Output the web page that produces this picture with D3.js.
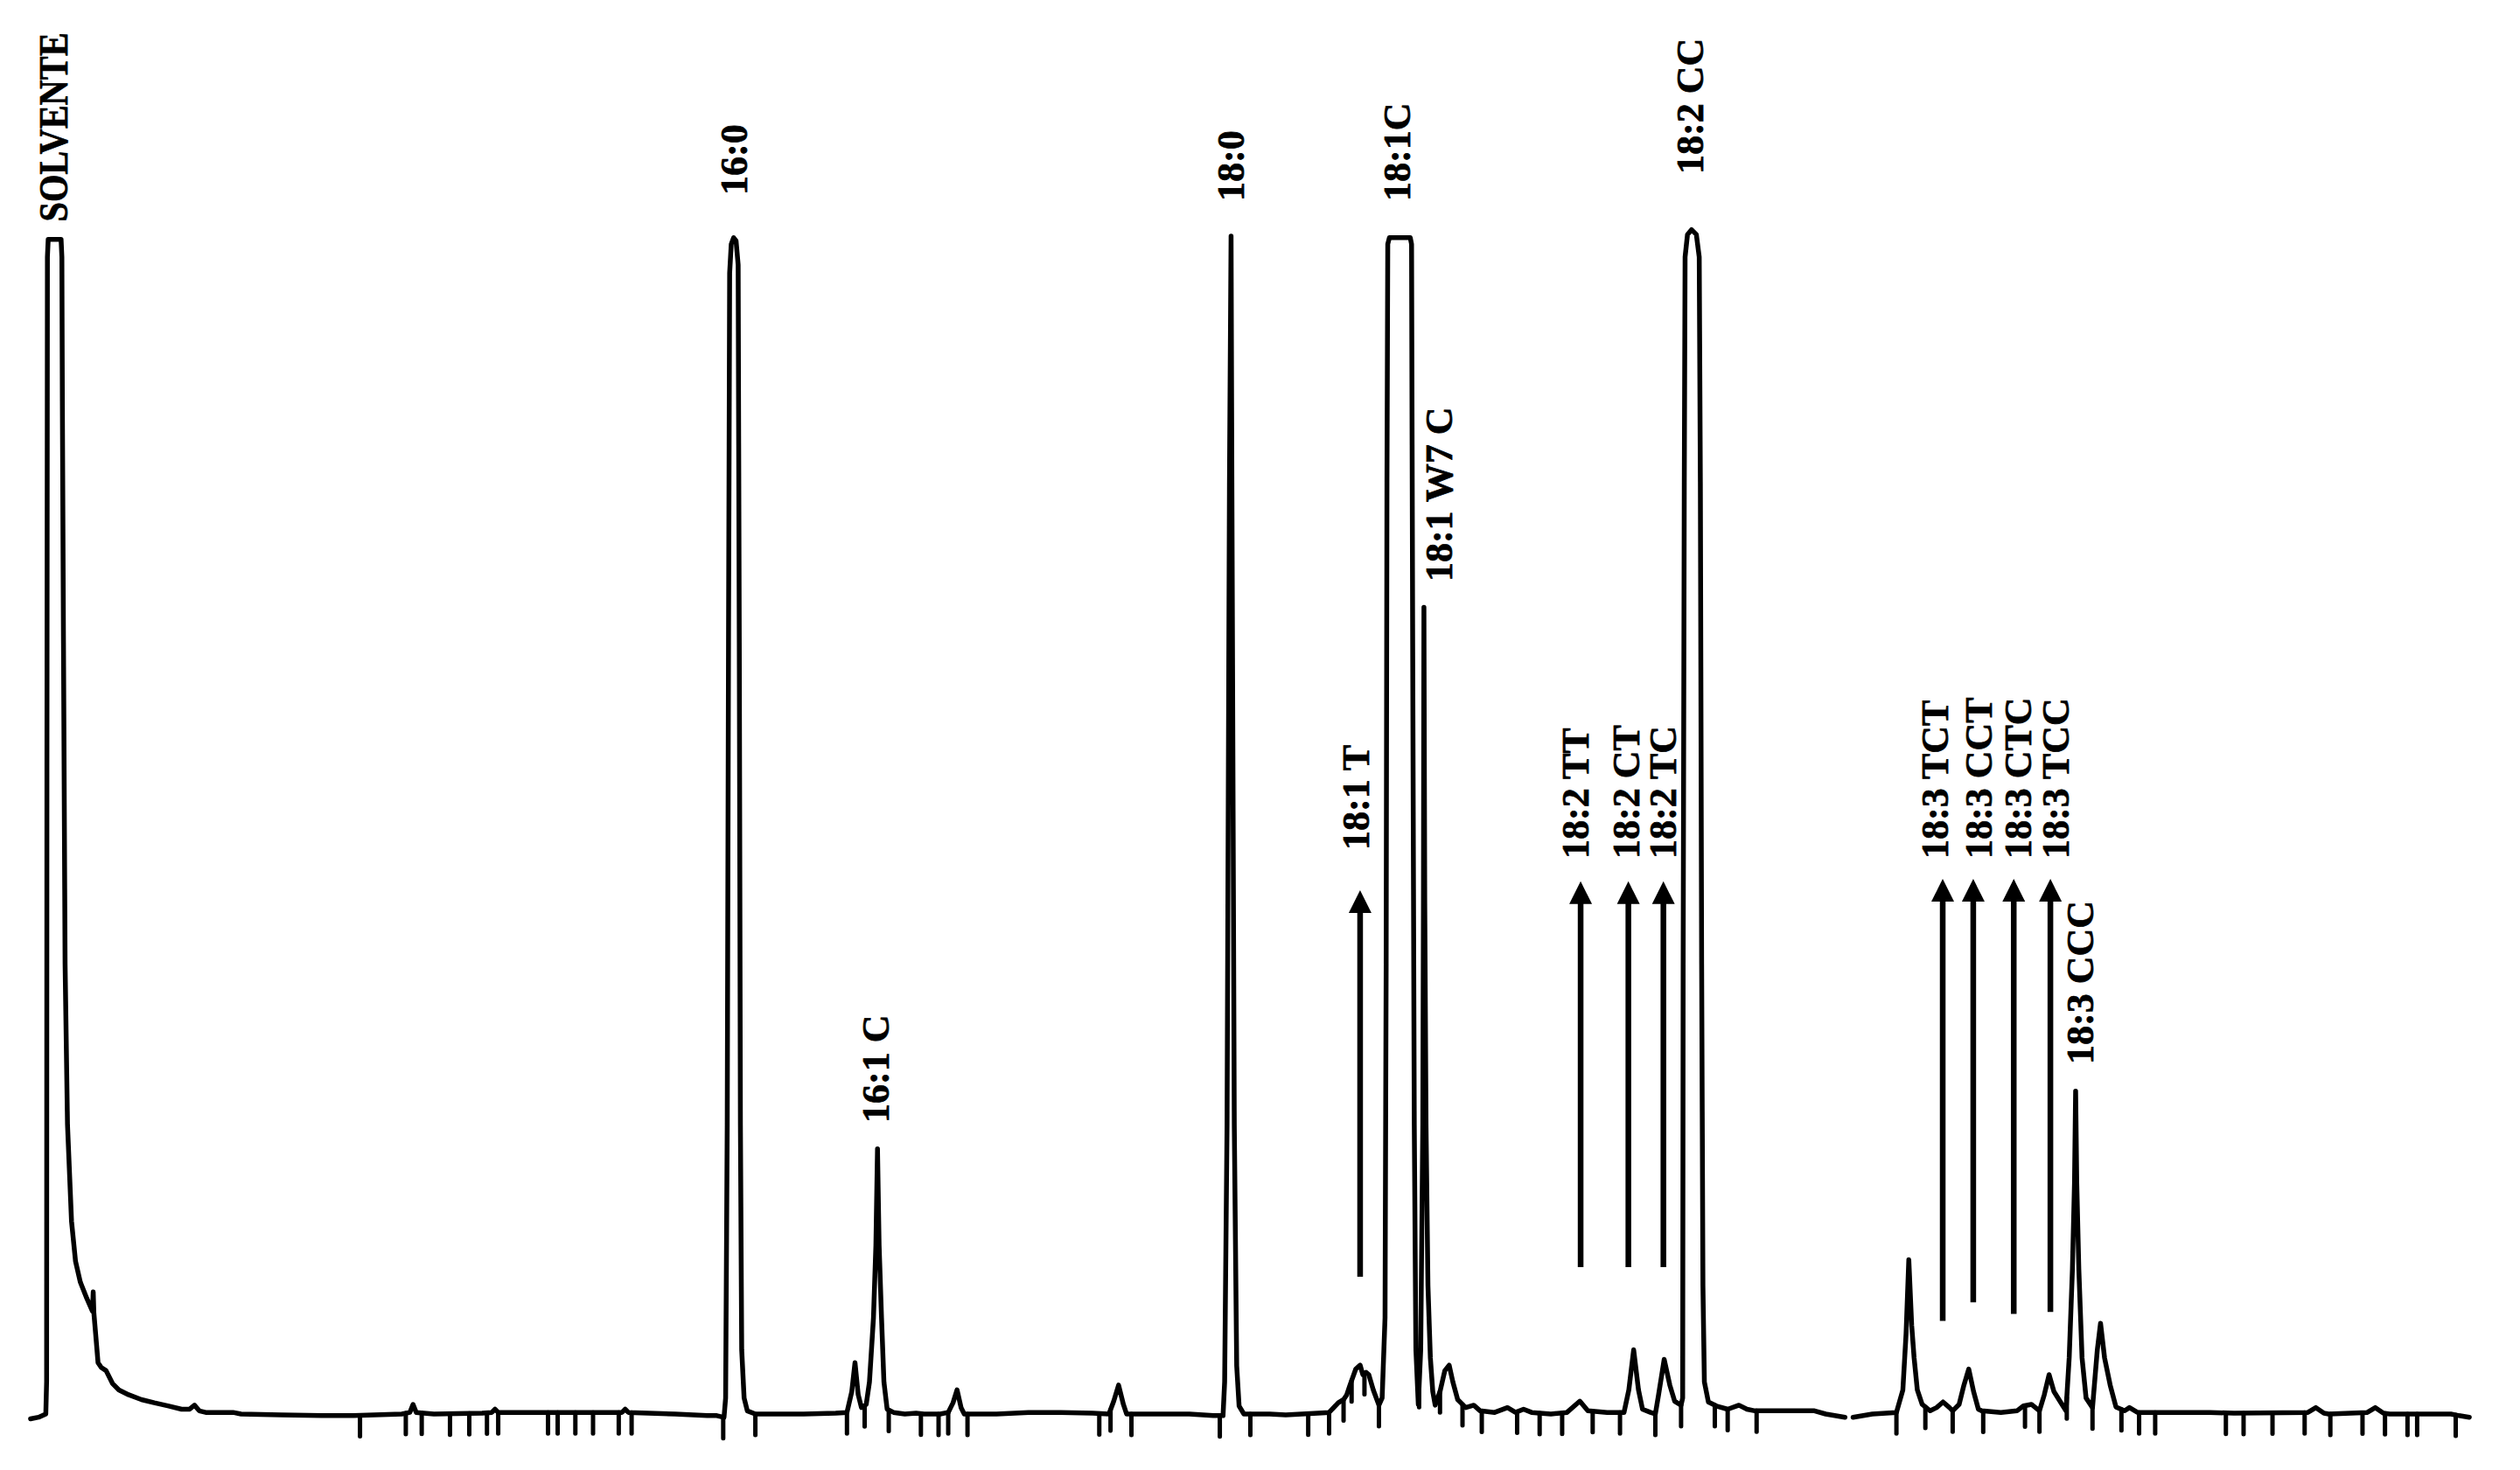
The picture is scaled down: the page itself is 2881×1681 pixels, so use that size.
<!DOCTYPE html>
<html>
<head>
<meta charset="utf-8">
<script src="https://cdn.jsdelivr.net/npm/d3@7"></script>
<style>
  html, body { margin: 0; padding: 0; background: #fff; }
  svg { display: block; }
  .lbl { font-family: "Liberation Serif", "DejaVu Serif", serif; font-weight: bold; fill: #000; stroke: #000; stroke-width: 0.7px; }
</style>
</head>
<body>
<svg id="chart" width="2881" height="1681"></svg>
<script>
// ---- DATA (retention in arbitrary units, signal in arbitrary units; 733 = recorder full scale) ----
const traceA = [
  [1.9,-3],[2.4,-2],[2.85,0],[2.9,20],[2.92,400],[2.95,720],[3.0,731],[3.8,731],[3.85,720],[3.88,630],[3.95,480],
  [4.05,280],[4.2,180],[4.45,120],[4.7,95],[5.0,82],[5.4,72],[5.75,64],[5.8,76],[5.84,63],[5.95,50],[6.1,32],
  [6.3,29],[6.6,27],[7.0,19],[7.4,15],[8.0,12],[8.8,9],[9.6,7],[10.5,5],[11.3,3],[11.8,3],[12.1,5.5],[12.4,2],
  [12.8,1],[14.5,1],[15.0,0],[17.5,-0.5],[20.0,-1],[22.0,-1],[25.0,0],[25.5,1],[25.7,6],[25.9,1],[27.0,0],
  [30.0,0.5],[30.6,1],[30.8,3],[31.0,1],[34.0,1],[36.0,1],[38.7,1],[38.9,3],[39.1,1],[42.0,0],[44.0,-1],
  [44.6,-1],[45.0,-2],
  [45.05,-2],[45.15,10],[45.25,180],[45.33,480],[45.4,710],[45.5,728],[45.65,732],[45.8,730],[45.93,715],
  [46.0,480],[46.07,180],[46.15,40],[46.3,10],[46.5,2],[47.0,0],
  [48.0,0],[50.0,0],[52.0,0.5],[52.7,1],[53.0,14],[53.2,32],[53.4,12],[53.6,4],[53.9,6],[54.1,20],[54.35,60],
  [54.5,105],[54.6,165],[54.7,105],[54.85,60],[55.0,20],[55.2,3],[55.6,1],[56.3,0],[57.0,0.5],[57.5,0],[58.5,0],
  [59.0,1],[59.3,7],[59.55,15],[59.8,4],[60.0,0],[62.0,0],[64.0,1],[66.0,1],[68.0,0.5],[69.0,0],[69.3,8],
  [69.6,18],[69.9,6],[70.1,0],[72.0,0],[74.0,0],[75.5,-1],[76.1,-1],
  [76.2,20],[76.35,180],[76.5,580],[76.6,733],[76.65,580],[76.8,180],[76.95,30],[77.1,5],[77.4,0],[78.0,0],
  [79.0,0],[80.0,-0.5],[81.0,0],[82.0,0.5],[82.7,1],[83.27,7],[83.6,9],[83.8,12],[84.0,18],[84.36,28],
  [84.63,30.4],[84.8,24.5],[85.0,26],[85.17,24.5],[85.45,15],[85.8,5.5],[86.0,10],[86.18,60],[86.25,280],
  [86.3,580],[86.35,728],[86.45,732],[87.75,732],[87.83,728],[87.9,480],[88.0,180],[88.1,40],[88.25,6],
  [88.4,40],[88.53,180],[88.57,320],[88.6,502],[88.65,320],[88.73,180],[88.85,80],[89.0,35],[89.15,14],
  [89.3,5.5],[89.6,14],[89.9,27],[90.17,30.4],[90.4,20],[90.7,9],[91.2,4],[91.7,5.5],[92.1,2],[93.0,1],
  [93.8,4],[94.3,1],[94.8,3],[95.3,1],[96.5,0],[97.5,1],[98.3,8],[98.8,2],[100.0,1],[101.05,1],[101.35,15],
  [101.65,40],[101.95,15],[102.2,3],[102.7,1],[103.0,0],[103.2,12],[103.55,34],[103.9,18],[104.2,8],[104.6,5.5],
  [104.7,10],[104.73,280],[104.8,580],[104.85,720],[105.0,734],[105.25,737],[105.55,734],[105.73,720],
  [105.8,580],[105.88,280],[105.96,80],[106.05,20],[106.3,7.5],[106.8,5],[107.5,3],[108.2,5.5],[108.7,3],
  [109.2,2],[110.2,2],[112.9,2],[113.6,0],[114.8,-2]
];
const traceB = [
  [115.3,-2],[116.5,0],[118.0,1],[118.4,15],[118.6,50],[118.77,96],[118.95,55],[119.1,35],[119.3,15],
  [119.6,6],[120.1,2],[120.5,4],[120.9,7.5],[121.3,4],[121.5,2],[121.9,6],[122.2,18],[122.5,28],[122.8,14],
  [123.1,3],[123.3,2],[124.5,1],[125.5,2],[125.9,5],[126.4,6],[126.9,2],[127.2,12],[127.5,24.5],[127.8,14],
  [128.3,6],[128.55,2],
  [128.75,35],[128.95,90],[129.08,144],[129.15,201],[129.22,144],[129.35,90],[129.55,35],[129.8,10],
  [130.2,4],[130.5,40],[130.7,56.5],[130.95,35],[131.3,18],[131.66,4.4],[132.2,2],[132.5,4],[133.0,1],
  [134.0,1],[137.5,1],[139.0,0.5],[143.6,1],[144.1,4],[144.6,0.5],[144.9,0],[147.3,1],[147.8,4],[148.3,0.5],
  [148.7,0],[152.5,0],[153.0,-1],[153.65,-2]
];

const eventMarks = [22.4,25.25,26.24,28.0,29.2,30.3,31.0,34.1,34.7,35.8,36.9,38.5,39.3,45.0,47.0,52.7,53.8,
  55.3,57.3,58.4,59.0,60.2,68.4,69.1,70.4,75.9,77.8,81.4,82.7,83.6,84.1,84.9,85.8,88.3,89.6,91.0,92.2,94.4,
  95.8,97.2,99.1,100.8,103.0,104.6,106.7,107.5,109.3,118.0,119.8,121.5,123.4,126.0,126.9,128.6,130.2,132.0,
  133.1,134.1,138.5,139.6,141.4,143.4,145.0,147.0,148.4,149.8,150.4,152.8];

const labelNames = ["SOLVENTE","16:0","16:1 C","18:0","18:1 T","18:1C","18:1 W7 C","18:2 TT","18:2 CT",
  "18:2 TC","18:2 CC","18:3 TCT","18:3 CCT","18:3 CTC","18:3 TCC","18:3 CCC"];
const labelRetention = [3.35,45.69,54.53,76.6,84.41,86.97,89.53,98.05,101.2,103.49,105.2,120.44,123.14,125.61,127.93,129.47];
const labelSignal = [742,758.6,181.2,754.8,351,754.8,518,345.6,345.6,345.6,771.7,345.6,345.6,345.6,345.6,217.7];

const arrowRetention = [84.63,98.35,101.32,103.5,120.88,122.78,125.3,127.58];
const arrowFrom = [85.4,91.4,91.4,91.4,58,69.5,62.3,63.5];
const arrowTo = [326,331.5,331.5,331.5,333,333,333,333];

// ---- SCALES ----
const W = 2881, H = 1681;
const x = d3.scaleLinear().domain([0, 156.8]).range([0, W]);
const y = d3.scaleLinear().domain([0, 733]).range([1617, 270]);

const svg = d3.select("#chart");
svg.append("rect").attr("width", W).attr("height", H).attr("fill", "#fff");

const line = d3.line().x(d => x(d[0])).y(d => y(d[1])).curve(d3.curveLinear);

// trace
[traceA, traceB].forEach(seg => {
  svg.append("path").datum(seg).attr("d", line)
    .attr("fill", "none").attr("stroke", "#000").attr("stroke-width", 5.5)
    .attr("stroke-linejoin", "round").attr("stroke-linecap", "round");
});

// signal at a retention time (for placing event marks on the trace)
const allPts = traceA.concat(traceB);
const bis = d3.bisector(d => d[0]).left;
function sigAt(t) {
  const i = bis(allPts, t);
  if (i <= 0) return allPts[0][1];
  if (i >= allPts.length) return allPts[allPts.length - 1][1];
  const a = allPts[i - 1], b = allPts[i];
  const f = (t - a[0]) / (b[0] - a[0]);
  return a[1] + f * (b[1] - a[1]);
}

// event marks (integrator ticks below trace)
svg.append("g").selectAll("line").data(eventMarks).join("line")
  .attr("x1", d => x(d)).attr("x2", d => x(d))
  .attr("y1", d => y(sigAt(d)))
  .attr("y2", d => y(sigAt(d)) + 24)
  .attr("stroke", "#000").attr("stroke-width", 5).attr("stroke-linecap", "round");

// arrows
const arrows = arrowRetention.map((t, i) => ({ t, s0: arrowFrom[i], s1: arrowTo[i] }));
const ag = svg.append("g");
ag.selectAll("line").data(arrows).join("line")
  .attr("x1", d => x(d.t)).attr("x2", d => x(d.t))
  .attr("y1", d => y(d.s0)).attr("y2", d => y(d.s1) + 20)
  .attr("stroke", "#000").attr("stroke-width", 6.5);
ag.selectAll("path").data(arrows).join("path")
  .attr("d", d => {
    const cx = x(d.t), ty = y(d.s1);
    return `M${cx},${ty} L${cx - 13},${ty + 26} L${cx + 13},${ty + 26} Z`;
  })
  .attr("fill", "#000");

// labels (rotated, reading upward)
const labels = labelNames.map((n, i) => ({ n, t: labelRetention[i], s: labelSignal[i] }));
const FS = 44;
svg.append("g").selectAll("text").data(labels).join("text")
  .attr("class", "lbl")
  .attr("font-size", (d, i) => i === 0 ? 46 : FS)
  .attr("transform", (d, i) => {
    const fs = i === 0 ? 46 : FS;
    return `translate(${x(d.t) + fs * 0.33},${y(d.s)}) rotate(-90)`;
  })
  .attr("textLength", (d, i) => i === 0 ? 216 : null)
  .attr("lengthAdjust", (d, i) => i === 0 ? "spacingAndGlyphs" : null)
  .text(d => d.n);
</script>
</body>
</html>
